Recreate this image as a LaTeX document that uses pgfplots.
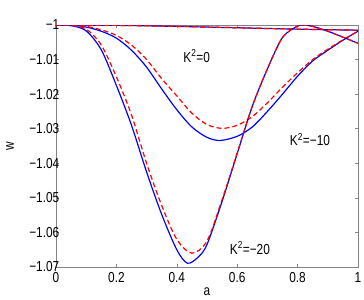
\documentclass[border=0pt]{standalone}
\usepackage{pgfplots}
\pgfplotsset{compat=1.18}
\usepackage{fontspec}
\setmainfont{Liberation Sans}[FakeStretch=0.82]
\definecolor{axgray}{RGB}{130,130,130}
\newcommand{\lblfont}{\fontsize{14.5}{17}\selectfont}
\begin{document}
\lblfont
\begin{tikzpicture}
\path[use as bounding box] (-56bp,-33bp) rectangle (308bp,267bp);
\begin{axis}[
  at={(0,0)}, anchor=south west,
  scale only axis, width=302bp, height=242bp,
  xmin=0, xmax=1, ymin=-1.07, ymax=-1,
  xtick={0,0.2,0.4,0.6,0.8,1},
  xticklabels={0,0.2,0.4,0.6,0.8,1},
  ytick={-1.07,-1.06,-1.05,-1.04,-1.03,-1.02,-1.01,-1},
  yticklabels={−1.07,−1.06,−1.05,−1.04,−1.03,−1.02,−1.01,−1},
  tick align=inside, tick pos=both,
  major tick length=3bp,
  axis line style={axgray, line width=0.9pt},
  every tick/.style={axgray, line width=0.6pt},
  tick label style={font=\lblfont, text=black},
  xticklabel style={inner sep=0pt, anchor=north, yshift=-5bp},
  yticklabel style={inner sep=0pt, anchor=east, xshift=3.5bp},
  xlabel={a}, ylabel={w},
  xlabel style={at={(axis description cs:0.5,-0.103)}, anchor=center, font=\lblfont},
  ylabel style={at={(axis description cs:-0.152,0.5)}, anchor=center, font=\lblfont},
  clip=true,
]
% K^2 = 0
\addplot[blue, line width=1.2pt, smooth] coordinates {
(0,-1) (0.2,-1.0001) (0.4,-1.0004) (0.6,-1.0008) (0.8,-1.0012) (1,-1.0015)};
\addplot[red, line width=1.2pt, dash pattern=on 5bp off 3bp, smooth] coordinates {
(0,-1) (0.2,-1.0001) (0.4,-1.0004) (0.6,-1.0008) (0.8,-1.0012) (1,-1.0015)};
% K^2 = -10
\addplot[blue, line width=1.2pt, smooth] coordinates {
(0,-1) (0.05,-1.0000) (0.1,-1.0006) (0.15,-1.0018) (0.2,-1.0038) (0.25,-1.0073) (0.3,-1.0122) (0.35,-1.0185) (0.4,-1.0245) (0.45,-1.0295) (0.5,-1.0325) (0.543,-1.0334) (0.6,-1.0322) (0.65,-1.0295) (0.7,-1.0250) (0.75,-1.0200) (0.8,-1.0148) (0.85,-1.0104) (0.9,-1.0073) (0.95,-1.0044) (1,-1.0018)};
\addplot[red, line width=1.2pt, dash pattern=on 5bp off 3bp, smooth] coordinates {
(0,-1) (0.05,-1.0000) (0.1,-1.0004) (0.15,-1.0014) (0.2,-1.0030) (0.25,-1.0058) (0.3,-1.0100) (0.35,-1.0155) (0.4,-1.0205) (0.45,-1.0255) (0.5,-1.0288) (0.55,-1.0299) (0.6,-1.0290) (0.65,-1.0265) (0.7,-1.0225) (0.75,-1.0180) (0.8,-1.0138) (0.85,-1.0100) (0.9,-1.0070) (0.95,-1.0043) (1,-1.0018)};
% K^2 = -20
\addplot[blue, line width=1.2pt, smooth] coordinates {
(0,-1) (0.05,-1.0002) (0.1,-1.0017) (0.15,-1.0072) (0.2,-1.0175) (0.25,-1.0290) (0.3,-1.0425) (0.35,-1.0548) (0.4,-1.0650) (0.435,-1.0689) (0.47,-1.0672) (0.5,-1.0635) (0.55,-1.0510) (0.6,-1.0372) (0.65,-1.0235) (0.7,-1.0127) (0.75,-1.0036) (0.8,-1.0003) (0.82,-1.0000) (0.85,-1.0004) (0.9,-1.0018) (0.95,-1.0035) (1,-1.0053)};
\addplot[red, line width=1.2pt, dash pattern=on 5bp off 3bp, smooth] coordinates {
(0,-1) (0.05,-1.0001) (0.1,-1.0012) (0.15,-1.0058) (0.2,-1.0150) (0.25,-1.0260) (0.3,-1.0400) (0.35,-1.0522) (0.4,-1.0620) (0.45,-1.0660) (0.5,-1.0625) (0.55,-1.0505) (0.6,-1.0370) (0.65,-1.0235) (0.7,-1.0127) (0.75,-1.0036) (0.8,-1.0003) (0.82,-1.0000) (0.85,-1.0004) (0.9,-1.0018) (0.95,-1.0035) (1,-1.0053)};
\node[font=\lblfont] at (axis cs:0.466,-1.0090) {K\textsuperscript{2}=0};
\node[font=\lblfont] at (axis cs:0.841,-1.0332) {K\textsuperscript{2}=−10};
\node[font=\lblfont] at (axis cs:0.642,-1.0645) {K\textsuperscript{2}=−20};
\end{axis}
\end{tikzpicture}
\end{document}
